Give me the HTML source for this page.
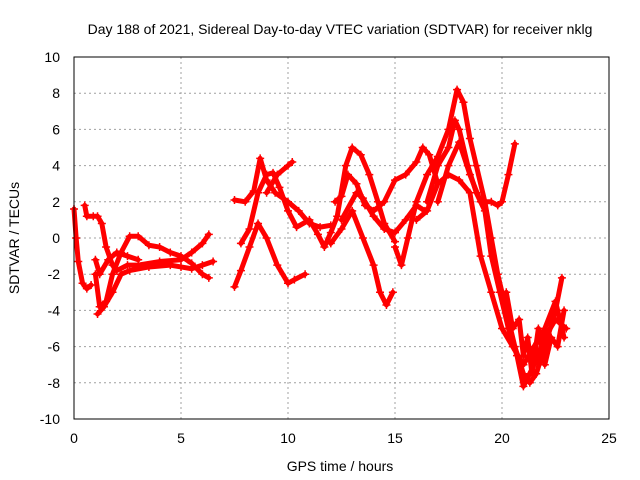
<!DOCTYPE html>
<html><head><meta charset="utf-8"><style>
body{margin:0;background:#fff;}
svg{display:block;font-family:"Liberation Sans",sans-serif;font-size:14px;}
</style></head><body>
<svg id="chart" width="640" height="480">
<text x="340" y="34" text-anchor="middle">Day 188 of 2021, Sidereal Day-to-day VTEC variation (SDTVAR) for receiver nklg</text>
<text x="340" y="471" text-anchor="middle">GPS time / hours</text>
<text transform="translate(19,238) rotate(-90)" text-anchor="middle">SDTVAR / TECUs</text>
<g id="grid"></g><g id="ticks"></g><g id="series"></g>
<rect x="74" y="57" width="535" height="362" fill="none" stroke="#000"/>
</svg>
<script>
const xTicks=[0,5,10,15,20,25];
const yTicks=[-10,-8,-6,-4,-2,0,2,4,6,8,10];
const track1=[[0,1.6],[0.1,0],[0.2,-1.3],[0.4,-2.5],[0.6,-2.8],[0.8,-2.6]];
const track2=[[0.5,1.8],[0.6,1.2],[0.9,1.2],[1.1,1.2],[1.3,0.8],[1.5,-0.5],[1.8,-1.5],[2,-1.8],[2.5,-1.5],[3,-1.5],[4,-1.3],[5,-1.2],[5.5,-0.8],[6,-0.3],[6.3,0.2]];
const track3=[[1,-2],[1.2,-3.8],[1.5,-3.5],[1.8,-2],[2.2,-0.8],[2.6,0.1],[3,0.1],[3.5,-0.4],[4,-0.5],[4.5,-0.8],[5,-1],[5.5,-1.4],[6,-2],[6.3,-2.2]];
const track4=[[1.1,-4.2],[1.4,-3.8],[1.8,-3],[2.2,-2],[2.6,-1.8],[3.5,-1.6],[4.5,-1.5],[5,-1.6],[5.5,-1.7],[6,-1.5],[6.5,-1.3]];
const track5=[[1,-1.2],[1.2,-2],[1.6,-1.2],[2,-0.8],[2.5,-1],[3,-1.2]];
const track6=[[7.5,-2.7],[7.8,-1.8],[8.2,-0.5],[8.6,0.8],[9,0],[9.5,-1.5],[10,-2.5],[10.3,-2.3],[10.8,-2]];
const track7=[[7.5,2.1],[8,2],[8.4,2.6],[8.7,4.4],[9,3.2],[9.4,2.5],[10,2],[10.5,1.5],[11,0.8],[11.5,0.6],[12,0.7]];
const track8=[[7.8,-0.3],[8.2,0.5],[8.6,2.5],[9,3.5],[9.3,3.6],[9.6,2.8],[10,1.5],[10.4,0.6],[11,1],[11.4,0.2],[11.7,-0.5],[12,0.3],[12.3,1.2],[12.7,4],[13,5],[13.4,4.6],[13.8,3.5],[14.2,2],[14.5,0.8],[15,-0.2]];
const track9=[[9,2.5],[9.5,3.5],[10,4],[10.2,4.2]];
const track10=[[12.2,2],[12.5,2.3],[12.8,3.5],[13.2,3],[13.6,1.8],[14,1.5],[14.5,2],[15,3.2],[15.5,3.5],[16,4.2],[16.3,5],[16.6,4.6],[17,3]];
const track11=[[12,-0.3],[12.5,0.5],[13,1.5],[13.5,0],[14,-1.5],[14.3,-3],[14.6,-3.7],[14.9,-3]];
const track12=[[12.5,1],[13.2,2.5],[13.5,2.2],[14,1.2],[14.5,0.5],[15,0.3],[15.5,1],[16,1.8],[16.4,1.5]];
const track13=[[15,-0.5],[15.3,-1.5],[15.6,0],[16,2],[16.5,3.5],[17,4.5],[17.5,6],[17.9,8.2],[18.2,7.5],[18.5,5.5],[18.8,4],[19.2,2],[19.5,0],[19.8,-2],[20.2,-4],[20.6,-6],[21,-7.5],[21.3,-8],[21.6,-7.5],[22,-6],[22.5,-4],[22.8,-2.2]];
const track14=[[16.5,2],[17,4],[17.5,5],[17.8,6.5],[18,6],[18.4,4],[18.8,2.5],[19.2,1.5],[19.5,-1],[19.9,-3],[20.3,-5],[20.7,-6.5],[21,-8.2],[21.5,-7],[22,-5.5],[22.5,-4.5],[23,-5]];
const track15=[[17,2],[17.5,4],[18,5.3],[18.5,3.5],[19,2],[19.5,2],[19.8,1.8],[20,2],[20.3,3.5],[20.6,5.2]];
const track16=[[16,1],[16.5,1.5],[17,3],[17.5,3.5],[18,3.2],[18.5,2.5],[19,-1],[19.5,-3],[20,-5],[20.5,-6],[21,-7],[21.5,-6],[22,-5],[22.5,-3.5],[22.9,-5.5]];
const track17=[[20.2,-3],[20.5,-5],[20.8,-4.5],[21,-6.5],[21.2,-5.5],[21.4,-7.5],[21.7,-5],[22,-7],[22.3,-5.5],[22.6,-6],[22.9,-4]];
const tracks=[track1,track2,track3,track4,track5,track6,track7,track8,track9,track10,track11,track12,track13,track14,track15,track16,track17];
const NS="http://www.w3.org/2000/svg";
const X=v=>74+v*535/25, Y=v=>238-v*362/20;
const grid=document.getElementById('grid'),ticks=document.getElementById('ticks'),ser=document.getElementById('series');
function mk(tag,at,parent){const e=document.createElementNS(NS,tag);for(const k in at)e.setAttribute(k,at[k]);parent.appendChild(e);return e;}
xTicks.forEach(t=>{
 const g=mk('line',{x1:X(t),x2:X(t),y1:57,y2:419,stroke:'#a0a0a0','stroke-dasharray':'2,3','stroke-width':1},grid);
 
 
 const l=mk('text',{x:X(t),y:443,'text-anchor':'middle'},ticks);l.textContent=t;
 
 
});
yTicks.forEach(t=>{
 const g=mk('line',{x1:74,x2:609,y1:Y(t),y2:Y(t),stroke:'#a0a0a0','stroke-dasharray':'2,3','stroke-width':1},grid);
 
 
 const l=mk('text',{x:60,y:Y(t)+5,'text-anchor':'end'},ticks);l.textContent=t;
 
 
});
tracks.forEach((tr,i)=>{
 const p=mk('polyline',{points:tr.map(d=>X(d[0])+','+Y(d[1])).join(' '),fill:'none',stroke:'#f00','stroke-width':5,'stroke-linejoin':'round','stroke-linecap':'round'},ser);
 
 
 tr.forEach(d=>{
  const m=mk('path',{d:`M${X(d[0])-4},${Y(d[1])}h8M${X(d[0])},${Y(d[1])-4}v8`,stroke:'#f00','stroke-width':1.5},ser);
  
  
 });
});
</script>
</body></html>
